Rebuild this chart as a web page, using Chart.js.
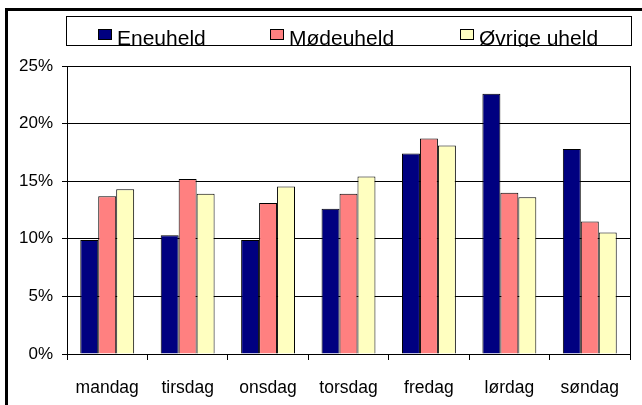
<!DOCTYPE html>
<html>
<head>
<meta charset="utf-8">
<script src="https://cdn.jsdelivr.net/npm/chart.js@4/dist/chart.umd.min.js"></script>
<style>
html,body{margin:0;padding:0;background:#fff;}
#wrap{position:absolute;left:0;top:0;width:642px;height:405px;}
</style>
</head>
<body>
<div id="wrap"><canvas id="c" width="642" height="405"></canvas></div>
<script>
const categories = ["mandag","tirsdag","onsdag","torsdag","fredag","lørdag","søndag"];
const eneuheld   = [9.9, 10.3, 9.9, 12.6, 17.4, 22.6, 17.8];
const modeuheld  = [13.7, 15.2, 13.1, 13.9, 18.7, 14.0, 11.5];
const ovrige     = [14.3, 13.9, 14.55, 15.4, 18.1, 13.6, 10.55];
const yTicks = [0, 5, 10, 15, 20, 25];

const FONT = "'Liberation Sans', Arial, sans-serif";

const framePlugin = {
  id: 'frame',
  afterDraw(chart) {
    const ctx = chart.ctx;
    const a = chart.chartArea;
    ctx.save();
    // outer thick frame (top and left)
    ctx.fillStyle = '#000';
    ctx.fillRect(5, 8, 642, 3);
    ctx.fillRect(5, 8, 3, 405);
    // right border of plot
    ctx.strokeStyle = '#000';
    ctx.lineWidth = 1;
    ctx.beginPath();
    ctx.moveTo(Math.round(a.right) + 0.5, a.top);
    ctx.lineTo(Math.round(a.right) + 0.5, a.bottom);
    ctx.stroke();
    // legend
    ctx.font = "21px " + FONT;
    ctx.textBaseline = 'alphabetic';
    const ds = chart.data.datasets;
    const itemX = [98, 270, 460];
    ds.forEach((d, i) => {
      const x = itemX[i];
      ctx.fillStyle = d.backgroundColor;
      ctx.fillRect(x + 0.5, 29.5, 13, 10);
      ctx.strokeStyle = '#000';
      ctx.strokeRect(x + 0.5, 29.5, 13, 10);
      ctx.fillStyle = '#000';
      ctx.fillText(d.label, x + 19, 45);
    });
    ctx.fillStyle = '#fff';
    ctx.fillRect(66, 47, 566, 8);
    ctx.strokeStyle = '#000';
    ctx.strokeRect(66.5, 16.5, 565, 29);
    ctx.restore();
  }
};

new Chart(document.getElementById('c'), {
  type: 'bar',
  data: {
    labels: categories,
    datasets: [
      { label: 'Eneuheld', data: eneuheld, backgroundColor: '#000080', borderColor: '#000', borderWidth: 1 },
      { label: 'Mødeuheld', data: modeuheld, backgroundColor: '#FF8080', borderColor: '#000', borderWidth: 1 },
      { label: 'Øvrige uheld', data: ovrige, backgroundColor: '#FFFFC0', borderColor: '#000', borderWidth: 1 }
    ]
  },
  options: {
    responsive: false,
    animation: false,
    layout: { padding: { top: 66, right: 12, left: 0, bottom: 0 } },
    datasets: { bar: { categoryPercentage: 0.67, barPercentage: 1.0 } },
    plugins: { legend: { display: false }, tooltip: { enabled: false } },
    scales: {
      x: {
        afterFit(s) { s.height = 51; },
        grid: { offset: true, drawOnChartArea: false, color: '#000', tickLength: 6 },
        border: { color: '#000', width: 1 },
        ticks: { color: '#000', font: { family: FONT, size: 17.5 }, padding: 18, maxRotation: 0 }
      },
      y: {
        min: 0, max: 25,
        afterFit(s) { s.width = 67; },
        afterBuildTicks(s) { s.ticks = yTicks.map(v => ({ value: v })); },
        grid: { color: '#000', tickLength: 5 },
        border: { color: '#000', width: 1 },
        ticks: { color: '#000', font: { family: FONT, size: 17 }, padding: 9, callback: v => v + '%' }
      }
    }
  },
  plugins: [framePlugin]
});
</script>
</body>
</html>
